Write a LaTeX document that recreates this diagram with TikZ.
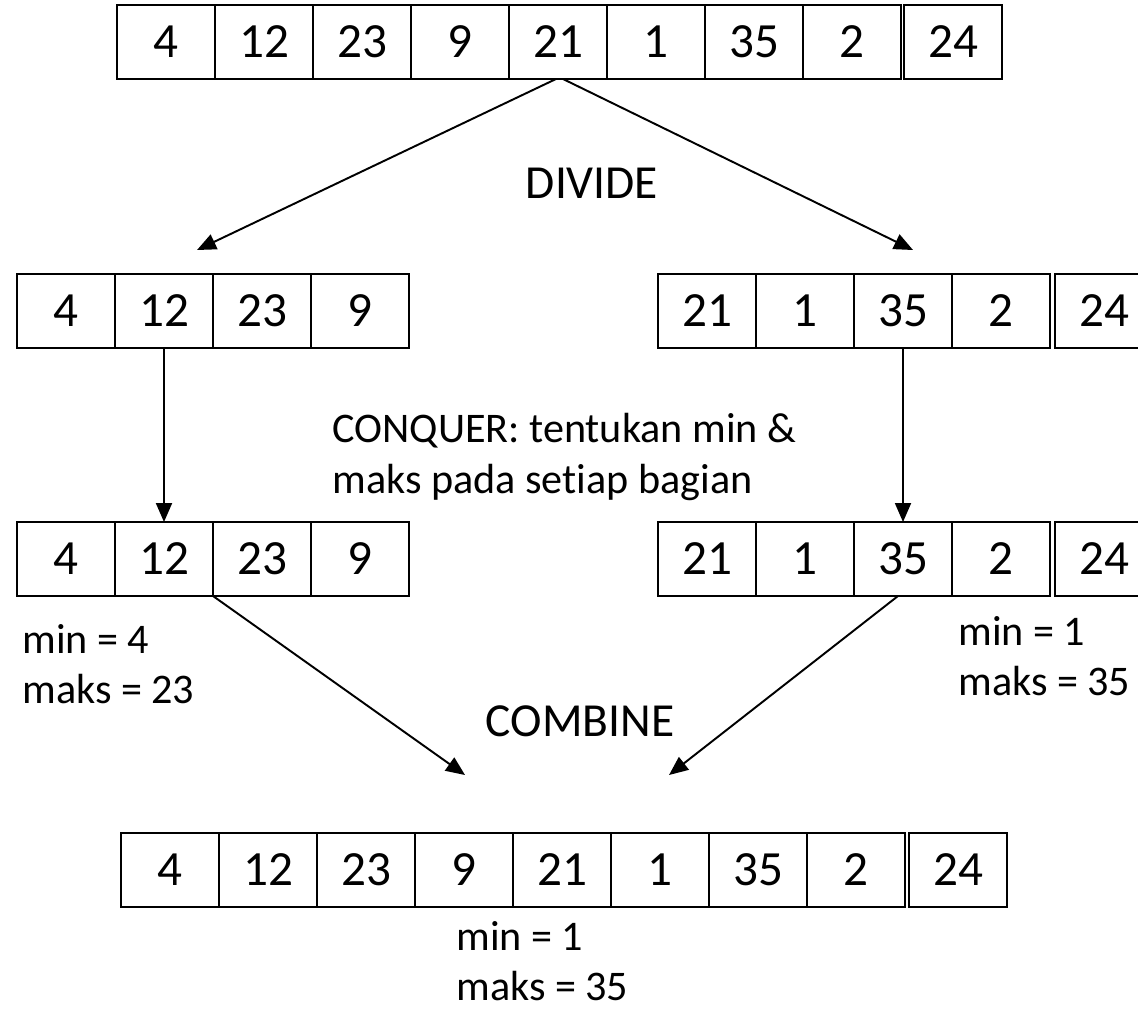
\documentclass[tikz,border=0pt]{standalone}
\usepackage{fontspec}
\setmainfont{Carlito}[Ligatures=NoCommon]
\usetikzlibrary{arrows.meta}

\tikzset{
  cell/.style={draw, line width=1.4pt, minimum width=1.96cm, minimum height=1.48cm,
    inner sep=0pt, outer sep=0pt, font=\fontsize{28}{30}\selectfont},
  arr/.style={line width=1.1pt, -{Triangle[length=0.38cm,width=0.32cm]}},
  lbl/.style={inner sep=0pt, align=left, font=\fontsize{24}{28.5}\selectfont}
}

\begin{document}
\begin{tikzpicture}[x=0.02cm, y=-0.02cm, font=\fontsize{27}{28.5}\selectfont]

        \clip (0,0) rectangle (1138,1011);

        % full array
        \begin{scope}[every node/.style={cell}]
          \node (t1) at (166,42) {4};
          \node (t2) at (264,42) {12};
          \node (t3) at (362,42) {23};
          \node (t4) at (460,42) {9};
          \node (t5) at (558,42) {21};
          \node (t6) at (656,42) {1};
          \node (t7) at (754,42) {35};
          \node (t8) at (852,42) {2};
          \node (t9) at (953,42) {24};
        \end{scope}

        % divided parts
        \begin{scope}[every node/.style={cell}]
          \node (a1) at (66,311)  {4};
          \node (a2) at (164,311) {12};
          \node (a3) at (262,311) {23};
          \node (a4) at (360,311) {9};
          \node (b1) at (707,311)  {21};
          \node (b2) at (805,311)  {1};
          \node (b3) at (903,311)  {35};
          \node (b4) at (1001,311) {2};
          \node (b5) at (1104,311) {24};
        \end{scope}

        % conquered parts
        \begin{scope}[every node/.style={cell}]
          \node (c1) at (66,559)  {4};
          \node (c2) at (164,559) {12};
          \node (c3) at (262,559) {23};
          \node (c4) at (360,559) {9};
          \node (d1) at (707,559)  {21};
          \node (d2) at (805,559)  {1};
          \node (d3) at (903,559)  {35};
          \node (d4) at (1001,559) {2};
          \node (d5) at (1104,559) {24};
        \end{scope}

        % combined array
        \begin{scope}[every node/.style={cell}]
          \node (e1) at (170,870) {4};
          \node (e2) at (268,870) {12};
          \node (e3) at (366,870) {23};
          \node (e4) at (464,870) {9};
          \node (e5) at (562,870) {21};
          \node (e6) at (660,870) {1};
          \node (e7) at (758,870) {35};
          \node (e8) at (856,870) {2};
          \node (e9) at (958,870) {24};
        \end{scope}

        % labels
        \node[inner sep=0pt] (divide)  at (592,183) {DIVIDE};
        \node[inner sep=0pt] (combine) at (580,721) {COMBINE};
        \node[lbl, anchor=west] (conquer) at (332,457)
          {CONQUER: tentukan min \&\\maks pada setiap bagian};
        \node[lbl, anchor=west] (resl) at (22,664) {min = 4\\maks = 23};
        \node[lbl, anchor=west] (resr) at (958,656) {min = 1\\maks = 35};
        \node[lbl, anchor=west] (resall) at (456,961) {min = 1\\maks = 35};

        \coordinate (dl) at (197,250);
        \coordinate (dr) at (913,250);
        \coordinate (cl) at (465,775);
        \coordinate (cr) at (669,775);

        \draw[arr] ([xshift=-0.04cm]t5.south) -- (dl);
        \draw[arr] ([xshift=0.1cm]t5.south) -- (dr);
        \draw[arr] (a2.south) -- (c2.north);
        \draw[arr] (b3.south) -- (d3.north);
        \draw[arr] (c2.south east) -- (cl);
        \draw[arr] ([xshift=-0.1cm]d3.south) -- (cr);

      \end{tikzpicture}
\end{document}
